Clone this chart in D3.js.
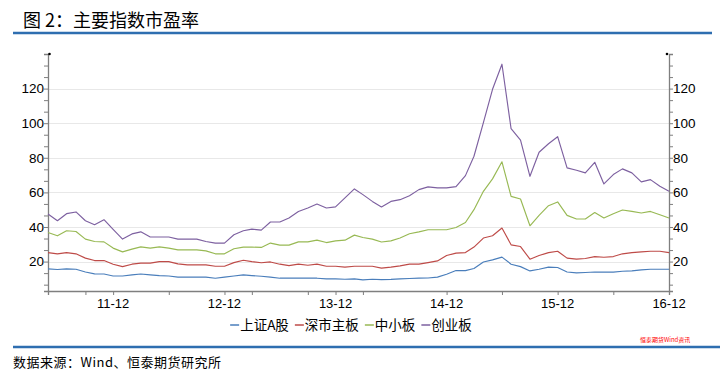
<!DOCTYPE html>
<html><head><meta charset="utf-8">
<script src="https://cdn.jsdelivr.net/npm/d3@7"></script>
<style>
html,body{margin:0;padding:0;background:#fff;}
svg{display:block;}
</style>
</head><body>
<svg id="chart" width="723" height="377"></svg>
<script>
// ---- data (monthly, 2011-05 .. 2016-12) ----
const startMonth = "2011-05";
const seriesNames = ["上证A股", "深市主板", "中小板", "创业板"];
const seriesColors = ["#4A7EBB", "#BE4B48", "#98B954", "#7D60A0"];
const shA = [15.8,15.4,15.8,15.6,14.0,12.9,12.8,11.7,11.7,12.3,12.8,12.3,11.9,11.7,11.0,11.0,11.0,11.0,10.4,11.0,11.7,12.3,11.9,11.5,11.0,10.4,10.4,10.4,10.4,10.4,10.0,10.0,9.8,10.0,9.4,9.8,9.6,9.7,10.0,10.2,10.4,10.5,11.0,12.7,14.8,14.8,16.0,19.8,21.0,22.6,18.5,17.1,14.6,15.6,16.8,16.6,14.0,13.5,13.7,14.0,13.9,13.9,14.4,14.6,15.2,15.6,15.6,15.6];
const szMain = [25.2,24.5,25.2,24.5,22.0,20.6,20.6,18.5,17.1,18.5,19.1,19.1,20.0,20.0,18.7,18.1,18.1,18.1,17.3,17.3,19.4,20.8,20.0,19.3,19.8,18.5,17.7,18.5,17.9,18.5,17.3,17.3,16.8,17.3,17.3,17.3,16.2,16.8,17.5,18.5,18.5,19.4,20.4,23.5,24.9,25.2,28.4,33.6,34.9,39.4,29.7,28.7,21.4,23.5,25.2,26.0,22.0,21.4,21.8,22.9,22.5,22.9,24.5,25.2,25.6,26.0,26.0,25.2];
const sme = [36.8,34.9,37.8,37.4,33.0,31.6,31.4,27.8,25.6,27.2,28.5,27.8,28.5,27.8,26.8,26.8,26.8,26.2,24.5,24.5,27.4,28.4,28.4,28.2,30.7,29.5,29.5,31.4,31.4,32.4,31.0,32.0,32.4,35.3,33.9,33.0,31.3,32.0,33.6,36.1,37.2,38.4,38.4,38.4,39.7,42.6,50.0,60.6,67.8,77.7,57.7,56.2,40.7,46.7,52.3,54.5,46.7,44.6,44.6,48.4,45.2,47.7,49.8,49.0,48.1,49.0,47.1,45.2];
const gem = [47.5,43.6,47.7,48.7,43.6,41.3,44.2,38.6,33.0,36.0,37.2,34.2,34.2,34.2,33.0,33.0,33.0,31.6,30.7,30.7,35.5,37.8,38.8,38.2,42.9,42.9,45.2,49.0,51.0,53.3,51.0,51.6,56.8,62.0,58.7,54.8,51.6,54.8,55.8,58.1,61.6,63.2,62.6,62.6,63.3,69.7,80.9,100.3,119.6,134.1,96.8,90.2,69.3,83.2,88.1,92.2,74.2,72.8,71.3,77.4,64.9,70.3,73.6,71.3,66.1,67.4,63.5,60.6];
const seriesValues = [shA, szMain, sme, gem];
const xMajorTicks = ["2011-12","2012-12","2013-12","2014-12","2015-12","2016-12"];
const xMinorTicks = ["2011-09","2012-06","2013-03","2013-09","2014-03","2015-06","2016-06"];
const yTickLabels = [20, 40, 60, 80, 100, 120];
const yDomain = [3, 140];
const titleText = "图 2：主要指数市盈率";
const sourceText = "数据来源：Wind、恒泰期货研究所";
const watermarkText = "恒泰期货Wind资讯";

// ---- helpers ----
const parseM = d3.timeParse("%Y-%m");
const fmtX = d3.timeFormat("%y-%m");
const t0 = parseM(startMonth);
const dates = shA.map((_, i) => d3.timeMonth.offset(t0, i));

const svg = d3.select("#chart");
const L = 48, R = 669, T = 54, B = 291;

const x = d3.scaleTime().domain([dates[0], dates[dates.length - 1]]).range([L, R]);
const y = d3.scaleLinear().domain(yDomain).range([B, T]);

// title
svg.append("text").attr("x", 23).attr("y", 27)
  .attr("font-family", "'Noto Sans CJK SC', sans-serif").attr("font-size", 18)
  .attr("fill", "#000").text(titleText);
svg.append("line").attr("x1", 13).attr("x2", 712).attr("y1", 33).attr("y2", 33)
  .attr("stroke", "#2E6EB0").attr("stroke-width", 2.5);

// gridlines
svg.append("g").selectAll("line").data(yTickLabels).join("line")
  .attr("x1", L).attr("x2", R)
  .attr("y1", d => Math.round(y(d)) + 0.5).attr("y2", d => Math.round(y(d)) + 0.5)
  .attr("stroke", "#E8E8E8").attr("stroke-width", 1.2);

// y axes
const minorY = d3.range(20 - 2 * 20 / 3, 140.01, 20 / 3);
const axisColor = "#7F7F7F";
const yLeft = d3.axisLeft(y).tickValues(minorY).tickSize(4).tickFormat("");
const gL = svg.append("g").attr("transform", `translate(${L},0)`).call(yLeft);
const yRight = d3.axisRight(y).tickValues(minorY).tickSize(4).tickFormat("");
const gR = svg.append("g").attr("transform", `translate(${R},0)`).call(yRight);
[gL, gR].forEach(g => {
  g.select(".domain").attr("stroke", axisColor).attr("stroke-width", 1.3);
  g.selectAll(".tick line").attr("stroke", axisColor);
});
// labels
const yLab = (g, anchor, dx) => g.append("g").selectAll("text").data(yTickLabels).join("text")
  .attr("x", dx).attr("y", d => y(d)).attr("dy", "0.36em")
  .attr("text-anchor", anchor).attr("font-family", "'Liberation Sans', Arial, sans-serif")
  .attr("font-size", 13.5).attr("fill", "#000").text(d => d);
yLab(svg, "end", 44);
yLab(svg, "start", 673);
// top dots
svg.append("circle").attr("cx", L + 1.5).attr("cy", T).attr("r", 1.3).attr("fill", "#000");
svg.append("circle").attr("cx", R - 2).attr("cy", T).attr("r", 1.3).attr("fill", "#000");

// x axis
const allXTicks = xMajorTicks.concat(xMinorTicks).map(parseM);
const xAxis = d3.axisBottom(x).tickValues(allXTicks).tickSize(4).tickFormat("");
const gX = svg.append("g").attr("transform", `translate(0,${B})`).call(xAxis);
gX.select(".domain").attr("stroke", axisColor).attr("stroke-width", 1.3);
gX.selectAll(".tick line").attr("stroke", axisColor);
svg.append("g").selectAll("text").data(xMajorTicks.map(parseM)).join("text")
  .attr("x", d => x(d)).attr("y", B + 17)
  .attr("text-anchor", "middle").attr("font-family", "'Liberation Sans', Arial, sans-serif")
  .attr("font-size", 13).attr("fill", "#000").text(d => fmtX(d));

// lines
const line = d3.line().x((d, i) => x(dates[i])).y(d => y(d));
svg.append("g").selectAll("path").data(seriesValues).join("path")
  .attr("d", d => line(d)).attr("fill", "none")
  .attr("stroke", (d, i) => seriesColors[i]).attr("stroke-width", 1.15)
  .attr("stroke-linejoin", "round");

// legend
const lg = svg.append("g");
let cx = 0;
seriesNames.forEach((n, i) => {
  const g = lg.append("g").attr("transform", `translate(${cx},0)`);
  g.append("line").attr("x1", 0).attr("x2", 9).attr("y1", 0).attr("y2", 0)
    .attr("stroke", seriesColors[i]).attr("stroke-width", 1.5);
  const t = g.append("text").attr("x", 10).attr("y", 0).attr("dy", "0.36em")
    .attr("font-family", "'Noto Sans CJK SC', sans-serif").attr("font-size", 13.5)
    .attr("fill", "#000").text(n);
  cx += 10 + t.node().getComputedTextLength() + 6;
});
lg.attr("transform", `translate(${354 - cx / 2},325)`);

// watermark
svg.append("text").attr("x", 640).attr("y", 342)
  .attr("font-family", "'Noto Sans CJK SC', sans-serif").attr("font-size", 6)
  .attr("fill", "#FF0000").text(watermarkText);

// footer
svg.append("line").attr("x1", 13).attr("x2", 720).attr("y1", 347).attr("y2", 347)
  .attr("stroke", "#2E6EB0").attr("stroke-width", 2.5);
svg.append("text").attr("x", 13).attr("y", 367)
  .attr("font-family", "'Noto Sans CJK SC', sans-serif").attr("font-size", 13)
  .attr("letter-spacing", 0.5)
  .attr("fill", "#000").text(sourceText);
</script>
</body></html>
